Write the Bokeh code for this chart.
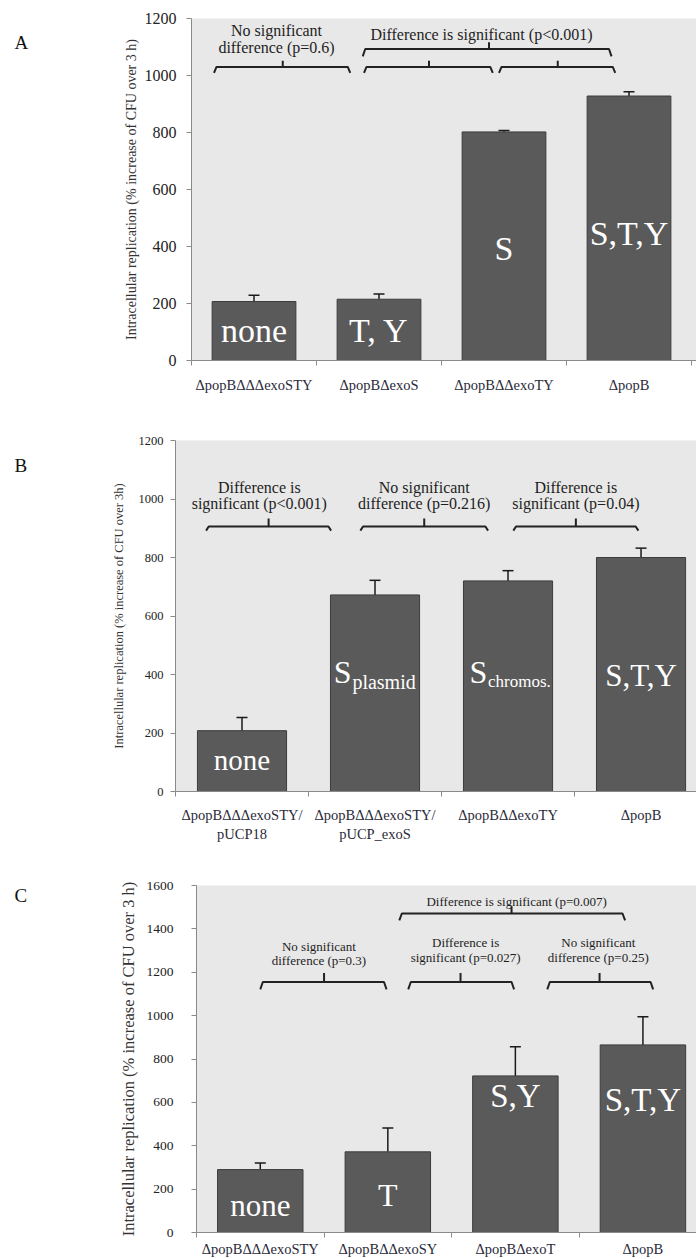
from bokeh.plotting import figure
from bokeh.models import ColumnDataSource, Whisker, TeeHead, FixedTicker
from bokeh.layouts import column, row
from bokeh.core.properties import value
from bokeh.embed import file_html
from bokeh.resources import INLINE

SERIF = "Liberation Serif"

# ---------------- data ----------------
a_labels = ["\u0394popB\u0394\u0394\u0394exoSTY", "\u0394popB\u0394exoS", "\u0394popB\u0394\u0394exoTY", "\u0394popB"]
a_values = [207, 215, 802, 928]
a_errors = [22, 18, 5, 15]
a_bartext = ["none", "T, Y", "S", "S,T,Y"]

b_labels = ["\u0394popB\u0394\u0394\u0394exoSTY/\npUCP18", "\u0394popB\u0394\u0394\u0394exoSTY/\npUCP_exoS",
            "\u0394popB\u0394\u0394exoTY", "\u0394popB"]
b_values = [208, 672, 720, 800]
b_errors = [45, 50, 35, 32]

c_labels = ["\u0394popB\u0394\u0394\u0394exoSTY", "\u0394popB\u0394\u0394exoSY", "\u0394popB\u0394exoT", "\u0394popB"]
c_values = [290, 372, 722, 865]
c_errors = [30, 110, 135, 130]
c_bartext = ["none", "T", "S,Y", "S,T,Y"]

BG = "#e8e8e8"
BAR = "#5a5a5a"
DARK = "#222222"
YLABEL = "Intracellular replication (% increase of CFU over 3 h)"
W = 696   # page width
LW = 40   # width of the letter column


def make_panel(height, left, top, bottom, xmax, ymax, labels, values, errors,
               tick_font, ylabel, ylabel_font, xlab_font, tick_standoff, ylabel_standoff,
               xlab_standoff):
    p = figure(width=W - LW, height=height, x_range=(0, xmax), y_range=(0, ymax),
               output_backend="svg", toolbar_location=None,
               min_border_left=left - LW, min_border_right=0,
               min_border_top=top, min_border_bottom=bottom)
    p.background_fill_color = BG
    p.border_fill_color = "white"
    p.outline_line_color = None
    p.grid.visible = False
    xs = [i + 0.5 for i in range(len(values))]
    src = ColumnDataSource(dict(x=xs, top=values,
                                upper=[v + e for v, e in zip(values, errors)]))
    p.vbar(x="x", top="top", width=0.67, source=src, fill_color=BAR,
           line_color="#3c3c3c", line_width=1)
    p.add_layout(Whisker(base="x", upper="upper", lower="top", source=src,
                         line_color="#1a1a1a", line_width=1.5,
                         upper_head=TeeHead(size=11, line_color="#1a1a1a", line_width=1.5),
                         lower_head=None))
    # y axis
    p.yaxis.ticker = FixedTicker(ticks=list(range(0, ymax + 1, 200)))
    p.yaxis.axis_line_color = "#8a8a8a"
    p.yaxis.major_tick_line_color = "#8a8a8a"
    p.yaxis.major_tick_out = 5
    p.yaxis.major_tick_in = 0
    p.yaxis.minor_tick_line_color = None
    p.yaxis.major_label_text_font = SERIF
    p.yaxis.major_label_text_font_size = tick_font
    p.yaxis.major_label_text_color = DARK
    p.yaxis.major_label_standoff = tick_standoff
    p.yaxis.axis_label = ylabel
    p.yaxis.axis_label_text_font = SERIF
    p.yaxis.axis_label_text_font_style = "normal"
    p.yaxis.axis_label_text_font_size = ylabel_font
    p.yaxis.axis_label_text_color = "#333333"
    p.yaxis.axis_label_standoff = ylabel_standoff
    # x axis
    p.xaxis.ticker = FixedTicker(ticks=xs, minor_ticks=list(range(0, len(values) + 1)))
    p.xaxis.major_label_overrides = {x: l for x, l in zip(xs, labels)}
    p.xaxis.axis_line_color = "#8a8a8a"
    p.xaxis.major_tick_line_color = None
    p.xaxis.major_tick_out = 5
    p.xaxis.major_tick_in = 0
    p.xaxis.minor_tick_line_color = "#8a8a8a"
    p.xaxis.minor_tick_out = 5
    p.xaxis.minor_tick_in = 0
    p.xaxis.major_label_standoff = xlab_standoff
    p.xaxis.major_label_text_font = SERIF
    p.xaxis.major_label_text_font_size = xlab_font
    p.xaxis.major_label_text_color = "#2a2a3a"
    return p


def letter_fig(height, y, text):
    f = figure(width=LW, height=height, x_range=(0, LW), y_range=(0, height),
               output_backend="svg", toolbar_location=None,
               x_axis_location=None, y_axis_location=None,
               min_border_left=0, min_border_right=0, min_border_top=0, min_border_bottom=0)
    f.outline_line_color = None
    f.grid.visible = False
    f.background_fill_color = "white"
    f.text(x=[14], y=[y], text=[text], text_align="left", text_baseline="middle",
           text_font=value(SERIF), text_font_size="19px", text_color="#111111")
    return f


def bracket(p, x0, x1, xc, yline, yend, ytick, width=2):
    p.line([x0, x0 + 0.02, xc, xc, xc, x1 - 0.02, x1],
           [yend, yline, yline, ytick, yline, yline, yend],
           line_color=DARK, line_width=width)


def note(p, x, y, text, size):
    p.text(x=[x], y=[y], text=[text], text_align="center", text_baseline="middle",
           text_font=value(SERIF), text_font_size=size, text_color="#1e1e1e")


def bartext(p, x, y, text, size, align="center"):
    p.text(x=[x], y=[y], text=[text], text_align=align, text_baseline="middle",
           text_font=value(SERIF), text_font_size=size, text_color="white")


# ---------------- panel A ----------------
pa = make_panel(405, 191, 18, 45, 4.04, 1200, a_labels, a_values, a_errors,
                "16px", YLABEL, "14px", "14.5px", 10, 3, 11)
note(pa, 0.68, 1157, "No significant", "16px")
note(pa, 0.68, 1100, "difference (p=0.6)", "16px")
note(pa, 2.32, 1145, "Difference is significant (p<0.001)", "16px")
bracket(pa, 0.18, 1.27, 0.73, 1030, 1009, 1052)
bracket(pa, 1.38, 2.41, 1.90, 1030, 1009, 1052)
bracket(pa, 2.46, 3.39, 2.93, 1030, 1009, 1052)
bracket(pa, 1.37, 3.36, 2.38, 1093, 1067, 1117)
bartext(pa, 0.5, 104, a_bartext[0], "34px")
bartext(pa, 1.5, 104, a_bartext[1], "34px")
bartext(pa, 2.5, 392, a_bartext[2], "34px")
bartext(pa, 3.5, 445, a_bartext[3], "34px")
la = letter_fig(405, 376, "A")

# ---------------- panel B ----------------
pb = make_panel(455, 175, 35, 69, 3.917, 1200, b_labels, b_values, b_errors,
                "12.5px", "Intracellular replication (% increase of CFU over 3h)", "12.5px",
                "14.5px", 7, 10, 10)
note(pb, 0.63, 1039, "Difference is", "16px")
note(pb, 0.63, 985, "significant (p<0.001)", "16px")
note(pb, 1.87, 1039, "No significant", "16px")
note(pb, 1.87, 985, "difference (p=0.216)", "16px")
note(pb, 3.01, 1039, "Difference is", "16px")
note(pb, 3.01, 985, "significant (p=0.04)", "16px")
bracket(pb, 0.23, 1.17, 0.70, 906, 892, 933)
bracket(pb, 1.39, 2.35, 1.87, 906, 892, 933)
bracket(pb, 2.54, 3.48, 3.01, 906, 892, 933)
bartext(pb, 0.5, 106, "none", "29px")
bartext(pb, 1.19, 410, "S", "32px", "left")
bartext(pb, 1.33, 375, "plasmid", "20px", "left")
bartext(pb, 2.21, 410, "S", "32px", "left")
bartext(pb, 2.35, 375, "chromos.", "17px", "left")
bartext(pb, 3.5, 397, "S,T,Y", "31px")
lb = letter_fig(455, 423, "B")

# ---------------- panel C ----------------
pc = make_panel(399, 196, 25, 26, 3.92, 1600, c_labels, c_values, c_errors,
                "13.5px", YLABEL, "16.5px", "14.5px", 18, 6, 3)
note(pc, 2.51, 1528, "Difference is significant (p=0.007)", "13px")
note(pc, 0.96, 1317, "No significant", "13px")
note(pc, 0.96, 1253, "difference (p=0.3)", "13px")
note(pc, 2.11, 1335, "Difference is", "13px")
note(pc, 2.11, 1268, "significant (p=0.027)", "13px")
note(pc, 3.15, 1335, "No significant", "13px")
note(pc, 3.15, 1268, "difference (p=0.25)", "13px")
bracket(pc, 1.59, 3.36, 2.47, 1471, 1439, 1503)
bracket(pc, 0.50, 1.49, 1.00, 1155, 1121, 1197)
bracket(pc, 1.66, 2.49, 2.07, 1155, 1121, 1197)
bracket(pc, 2.75, 3.58, 3.16, 1155, 1121, 1197)
bartext(pc, 0.5, 124, c_bartext[0], "31px")
bartext(pc, 1.5, 175, c_bartext[1], "32px")
bartext(pc, 2.5, 630, c_bartext[2], "33px")
bartext(pc, 3.5, 612, c_bartext[3], "33px")
lc = letter_fig(399, 388, "C")

layout = column(row(la, pa), row(lb, pb), row(lc, pc))
open("out.html", "w").write(file_html(layout, INLINE))
